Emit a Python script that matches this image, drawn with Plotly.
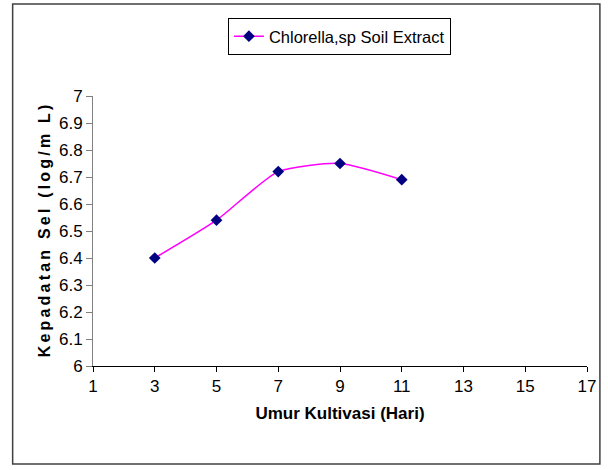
import plotly.graph_objects as go

days = [3, 5, 7, 9, 11]
density = [6.40, 6.54, 6.72, 6.75, 6.69]
series_name = "Chlorella,sp Soil Extract"
x_title = "Umur Kultivasi (Hari)"
y_title = "Kepadatan Sel (log/m L)"

FONT = "Liberation Sans, Arial"

L, R, T, B = 93, 591, 96, 366
W, H = 608, 470

def px_to_paper_x(px):
    return (px - L) / (R - L)

def px_to_paper_y(py):
    return (B - py) / (B - T)

spaced_y = "\u2009".join(list(y_title))

fig = go.Figure()
fig.add_trace(go.Scatter(
    x=days, y=density, mode="lines+markers", name=series_name,
    line=dict(color="#FF00FF", width=1.5, shape="spline", smoothing=0.6),
    marker=dict(symbol="diamond", size=9, color="#000080"),
))

fig.update_layout(
    width=W, height=H,
    margin=dict(l=L, r=W - R, t=T, b=H - B),
    paper_bgcolor="white", plot_bgcolor="white",
    font=dict(family=FONT, size=17, color="black"),
    showlegend=True,
    legend=dict(
        x=px_to_paper_x(229), y=px_to_paper_y(18), xanchor="left", yanchor="top",
        orientation="h", bordercolor="black", borderwidth=1,
        bgcolor="white", font=dict(family=FONT, size=16.5),
    ),
    xaxis=dict(
        range=[1, 17], tickvals=list(range(1, 18, 2)),
        showgrid=False, zeroline=False, showline=True, linecolor="black", linewidth=1,
        ticks="outside", ticklen=5, tickcolor="black", tickfont=dict(size=17),
        title=dict(text="<b>" + x_title + "</b>", font=dict(family=FONT, size=17), standoff=11),
    ),
    yaxis=dict(
        range=[6, 7], tickvals=[6 + i / 10 for i in range(11)],
        ticktext=["6", "6.1", "6.2", "6.3", "6.4", "6.5", "6.6", "6.7", "6.8", "6.9", "7"],
        showgrid=False, zeroline=False, showline=True, linecolor="#808080", linewidth=1,
        ticks="outside", ticklen=6, tickcolor="#808080", tickfont=dict(size=17),
        title=dict(text="<b>" + spaced_y + "</b>", font=dict(family=FONT, size=16), standoff=4),
    ),
    shapes=[dict(
        type="rect", xref="paper", yref="paper",
        x0=px_to_paper_x(12), x1=px_to_paper_x(604),
        y0=px_to_paper_y(464), y1=px_to_paper_y(4),
        line=dict(color="#404040", width=1.5), fillcolor="rgba(0,0,0,0)", layer="below",
    )],
)

fig.write_html("out.html", config={"displayModeBar": False},
               post_script="document.body.style.margin='0';")
